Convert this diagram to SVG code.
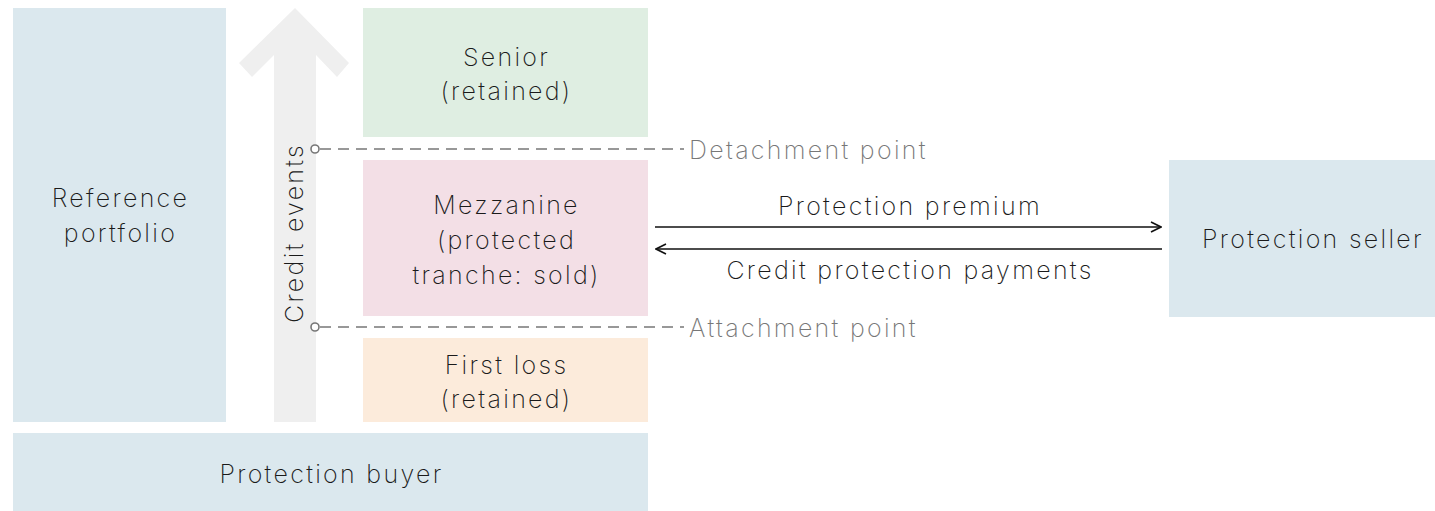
<svg xmlns="http://www.w3.org/2000/svg" width="1435" height="511" viewBox="0 0 1435 511">
  <defs>
    <marker id="open-head" viewBox="0 0 12 12" refX="11" refY="6" markerWidth="12" markerHeight="12" markerUnits="userSpaceOnUse" orient="auto">
      <path d="M1,1 L11,6 L1,11" fill="none" stroke="#111" stroke-width="1.6"/>
    </marker>
  </defs>
  <style>
    text { font-family: Inter, Roboto, "Liberation Sans", sans-serif; font-weight: 200; font-size: 25px; letter-spacing: 2.3px; fill: #1a1a1a; }
    .lbl { text-anchor: middle; }
    .note { fill: #777; }
    .party { fill: #dbe8ee; }
    .dash { stroke: #777; stroke-width: 1.6; stroke-dasharray: 11 7; fill: none; }
    .pin { fill: #fff; stroke: #777; stroke-width: 1.6; }
    .flow { stroke: #111; stroke-width: 1.6; fill: none; }
  </style>

  <!-- large background arrow for credit events -->
  <g id="credit-events">
    <polygon points="274,422 274,55 252,77 239,63 295,8 349,63 337,77 316,55 316,422" fill="#efefef"/>
    <text class="lbl" transform="translate(303,233) rotate(-90)">Credit events</text>
  </g>

  <g id="reference-portfolio">
    <rect class="party" x="13" y="8" width="213" height="414"/>
    <text class="lbl" x="120.5" y="207">Reference</text>
    <text class="lbl" x="120.5" y="242">portfolio</text>
  </g>

  <g id="senior">
    <rect x="363" y="8" width="285" height="129" fill="#dfeee2"/>
    <text class="lbl" x="506.5" y="66">Senior</text>
    <text class="lbl" x="506.5" y="100">(retained)</text>
  </g>

  <g id="mezzanine">
    <rect x="363" y="160" width="285" height="156" fill="#f3dfe6"/>
    <text class="lbl" x="506.5" y="214">Mezzanine</text>
    <text class="lbl" x="506.5" y="249">(protected</text>
    <text class="lbl" x="506.5" y="284">tranche: sold)</text>
  </g>

  <g id="first-loss">
    <rect x="363" y="338" width="285" height="84" fill="#fcebdb"/>
    <text class="lbl" x="506.5" y="374">First loss</text>
    <text class="lbl" x="506.5" y="408">(retained)</text>
  </g>

  <g id="protection-buyer">
    <rect class="party" x="13" y="433" width="635" height="78"/>
    <text class="lbl" x="331.5" y="483">Protection buyer</text>
  </g>

  <g id="protection-seller">
    <rect class="party" x="1169" y="160" width="266" height="157"/>
    <text class="lbl" x="1313" y="248">Protection seller</text>
  </g>

  <g id="connectors">
    <line class="dash" x1="320" y1="149" x2="684" y2="149"/>
    <circle class="pin" cx="315" cy="149" r="4"/>
    <text class="note" x="689" y="159">Detachment point</text>

    <line class="dash" x1="320" y1="327" x2="684" y2="327"/>
    <circle class="pin" cx="315" cy="327" r="4"/>
    <text class="note" x="689" y="337">Attachment point</text>

    <line class="flow" x1="655" y1="227" x2="1161" y2="227" marker-end="url(#open-head)"/>
    <text class="lbl" x="910" y="215">Protection premium</text>
    <line class="flow" x1="1162" y1="249" x2="656" y2="249" marker-end="url(#open-head)"/>
    <text class="lbl" x="910" y="279">Credit protection payments</text>
  </g>
</svg>
